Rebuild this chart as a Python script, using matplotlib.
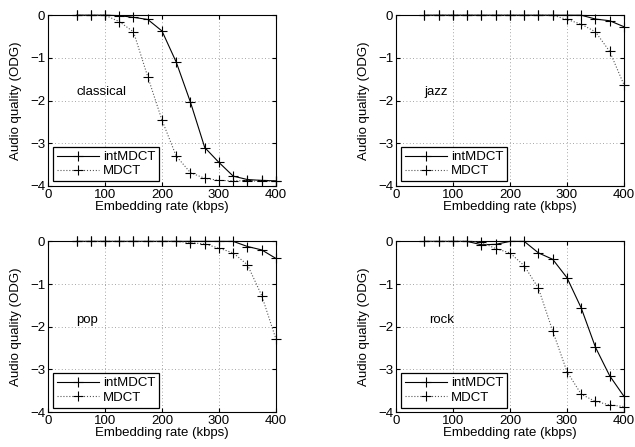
import matplotlib
matplotlib.use("Agg")
import matplotlib.pyplot as plt

plt.rcParams['font.family'] = ['Liberation Sans', 'DejaVu Sans']

rate = [50, 75, 100, 125, 150, 175, 200, 225, 250, 275, 300, 325, 350, 375, 400]

genres = ["classical", "jazz", "pop", "rock"]

# ODG values
int_classical = [0, 0, 0, -0.01, -0.05, -0.1, -0.37, -1.1, -2.04, -3.1, -3.45, -3.77, -3.85, -3.87, -3.88]
mdct_classical = [0, 0, 0, -0.15, -0.39, -1.44, -2.46, -3.3, -3.69, -3.82, -3.87, -3.88, -3.88, -3.89, -3.89]

int_jazz = [0, 0, 0, 0, 0, 0, 0, 0, 0, 0, 0, 0, -0.09, -0.13, -0.27]
mdct_jazz = [0, 0, 0, 0, 0, 0, 0, 0, 0, 0, -0.1, -0.21, -0.39, -0.85, -1.63]

int_pop = [0, 0, 0, 0, 0, 0, 0, 0, 0, 0, 0, 0, -0.12, -0.2, -0.4]
mdct_pop = [0, 0, 0, 0, 0, 0, 0, 0, -0.03, -0.06, -0.16, -0.27, -0.55, -1.27, -2.29]

int_rock = [0, 0, 0, 0, -0.08, -0.07, 0, 0, -0.27, -0.42, -0.85, -1.56, -2.48, -3.15, -3.63]
mdct_rock = [0, 0, 0, 0, -0.02, -0.17, -0.27, -0.57, -1.1, -2.1, -3.05, -3.58, -3.75, -3.83, -3.87]

int_vals = [int_classical, int_jazz, int_pop, int_rock]
mdct_vals = [mdct_classical, mdct_jazz, mdct_pop, mdct_rock]
label_x = [50, 50, 50, 58]
label_y = [-1.8, -1.8, -1.85, -1.85]

fig = plt.figure(figsize=(6.35, 4.47), dpi=100)
lefts = [0.0756, 0.6236, 0.0756, 0.6236]
bottoms = [0.584, 0.584, 0.078, 0.078]

for i, g in enumerate(genres):
    ax = fig.add_axes([lefts[i], bottoms[i], 0.359, 0.382])
    ax.plot(rate, int_vals[i], '-', color='black', lw=0.8, marker='+',
            ms=7, mew=0.8, label='intMDCT', clip_on=False, zorder=3)
    ax.plot(rate, mdct_vals[i], ':', color='#555555', lw=0.8, marker='+',
            ms=7, mew=0.8, mec='black', label='MDCT', clip_on=False, zorder=3)
    ax.set_xlim(0, 400)
    ax.set_ylim(-4, 0)
    ax.set_xticks([0, 100, 200, 300, 400])
    ax.set_yticks([-4, -3, -2, -1, 0])
    ax.set_yticklabels(['\u22124', '\u22123', '\u22122', '\u22121', '0'])
    ax.tick_params(direction='in', length=3, labelsize=9.5, top=True, right=True, pad=2)
    # grid only at interior ticks, like the original
    for xv in [100, 200, 300]:
        ax.axvline(xv, color='#888888', ls=(0, (1, 3)), lw=0.6, zorder=0)
    for yv in [-1, -2, -3]:
        ax.axhline(yv, color='#888888', ls=(0, (1, 3)), lw=0.6, zorder=0)
    ax.set_xlabel('Embedding rate (kbps)', fontsize=9.5, labelpad=0)
    ax.set_ylabel('Audio quality (ODG)', fontsize=9.5, labelpad=6)
    ax.text(label_x[i], label_y[i], g, fontsize=9.5, va='center', ha='left')
    leg = ax.legend(loc='lower left', fontsize=9.5, fancybox=False, framealpha=1,
                    edgecolor='black', borderaxespad=0.35, handlelength=3.2,
                    borderpad=0.3, labelspacing=0.15, handletextpad=0.3)
    leg.get_frame().set_linewidth(0.9)
    for s in ax.spines.values():
        s.set_linewidth(0.8)

fig.savefig('out.png', dpi=100)
